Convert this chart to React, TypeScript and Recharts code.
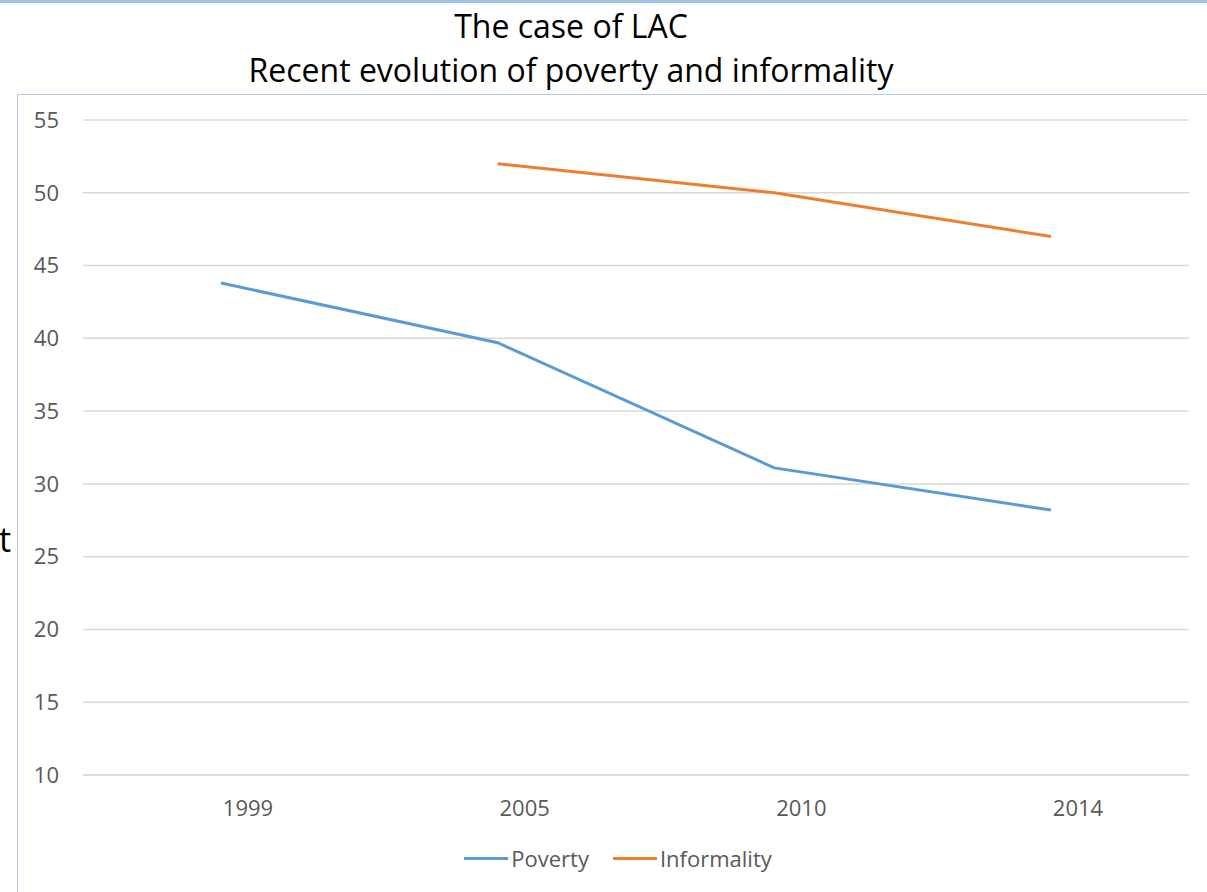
import React from 'react';
import { LineChart, Line, XAxis, YAxis, CartesianGrid, Legend } from 'recharts';

const years = ['1999', '2005', '2010', '2014'];
const poverty = [43.8, 39.7, 31.1, 28.2];
const informality = [null, 52.0, 50.0, 47.0];
const yTicks = [10, 15, 20, 25, 30, 35, 40, 45, 50, 55];
const seriesOrder = ['Poverty', 'Informality'];

const data = years.map((year, i) => ({
  year,
  Poverty: poverty[i],
  Informality: informality[i],
}));

const FONT = '"Open Sans", sans-serif';

const renderLegend = ({ payload }: any) => {
  const items = [...(payload || [])].sort(
    (a: any, b: any) => seriesOrder.indexOf(a.value) - seriesOrder.indexOf(b.value)
  );
  return (
    <div style={{ display: 'flex', justifyContent: 'center', gap: 24, fontFamily: FONT, fontSize: 22, color: '#595959', height: 30 }}>
      {items.map((entry: any) => (
        <div key={entry.value} style={{ display: 'flex', alignItems: 'center' }}>
          <span style={{ display: 'inline-block', width: 44, height: 3, background: entry.color, marginRight: 3 }} />
          <span>{entry.value}</span>
        </div>
      ))}
    </div>
  );
};

const titleStyle: React.CSSProperties = {
  position: 'absolute',
  left: 0,
  width: 1142,
  textAlign: 'center',
  fontFamily: FONT,
  fontSize: 32,
  lineHeight: '44px',
  color: '#000',
};

export default function App() {
  return (
    <div style={{ position: 'absolute', left: 0, top: 0, width: 1207, height: 892, background: '#fff', overflow: 'hidden' }}>
      <div style={{ position: 'absolute', left: 0, top: 0, width: 1207, height: 3, background: '#9dc3e6' }} />
      <div style={{ position: 'absolute', left: 17, top: 94, width: 1220, height: 820, border: '1px solid #b4cbe6' }} />
      <div style={{ ...titleStyle, top: 4 }}>The case of LAC</div>
      <div style={{ ...titleStyle, top: 48 }}>Recent evolution of poverty and informality</div>
      <div style={{ position: 'absolute', left: -1, top: 516, fontFamily: FONT, fontSize: 34, color: '#000' }}>t</div>
      <div style={{ position: 'absolute', left: 0, top: 0 }}>
        <LineChart width={1207} height={892} data={data} margin={{ top: 120, right: 18, left: 0, bottom: 57 }}>
          <CartesianGrid vertical={false} stroke="#d9d9d9" strokeWidth={1.5} />
          <XAxis
            dataKey="year"
            height={30}
            padding={{ left: 138, right: 138 }}
            axisLine={{ stroke: '#d9d9d9', strokeWidth: 1.5 }}
            tickLine={false}
            tickMargin={19}
            tick={{ fill: '#595959', fontSize: 22, fontFamily: FONT, dx: 27 }}
          />
          <YAxis
            domain={[10, 55]}
            ticks={yTicks}
            width={83}
            axisLine={false}
            tickLine={false}
            tickMargin={18}
            tick={{ fill: '#595959', fontSize: 22, fontFamily: FONT }}
          />
          <Legend
            content={renderLegend}
            wrapperStyle={{ position: 'absolute', left: 30, width: 1176, top: 843 }}
          />
          <Line dataKey="Poverty" stroke="#5b9bd5" strokeWidth={3} dot={false} isAnimationActive={false} />
          <Line dataKey="Informality" stroke="#ed7d31" strokeWidth={3} dot={false} isAnimationActive={false} />
        </LineChart>
      </div>
    </div>
  );
}
